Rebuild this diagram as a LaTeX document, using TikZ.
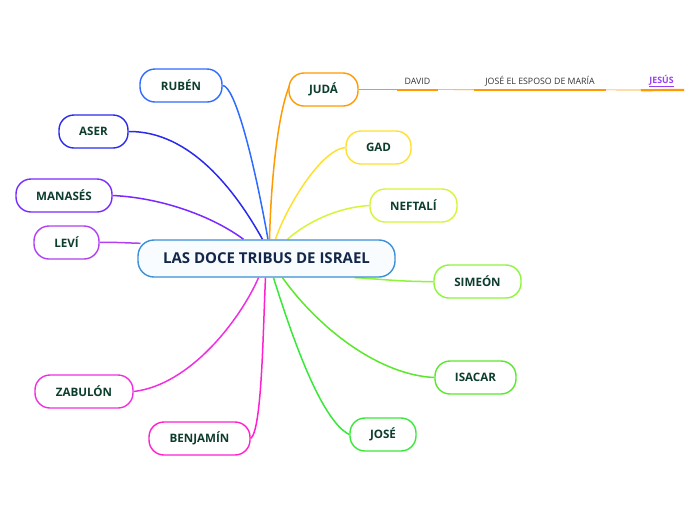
\documentclass[tikz,border=0pt]{standalone}
\usepackage{fontspec}
\setmainfont{Open Sans}
\usetikzlibrary{backgrounds}
\definecolor{txtg}{HTML}{0D3D2E}
\definecolor{ctxt}{HTML}{14274A}
\definecolor{cbord}{HTML}{3B8FD6}
\definecolor{cfill}{HTML}{F8FCFF}
\definecolor{crub}{HTML}{2F6BFF}
\definecolor{caser}{HTML}{2A2AEE}
\definecolor{cman}{HTML}{7A2AFF}
\definecolor{clev}{HTML}{B040F0}
\definecolor{cjud}{HTML}{FF9A00}
\definecolor{cgad}{HTML}{FFE030}
\definecolor{cnef}{HTML}{D4F53A}
\definecolor{csim}{HTML}{8EF53A}
\definecolor{cisa}{HTML}{5AE82A}
\definecolor{cjos}{HTML}{3AE83A}
\definecolor{czab}{HTML}{EE30E0}
\definecolor{cben}{HTML}{FF20D0}
\definecolor{cjes}{HTML}{9A3FF0}
\tikzset{
  tribe/.style={draw=#1, rounded corners=15pt, minimum height=33pt, line width=1.4pt,
    fill=white, text=txtg, font=\fontsize{11.6}{13}\selectfont\bfseries, inner sep=0pt},
  link/.style={draw=#1, line width=1.5pt},
  sub/.style={font=\fontsize{8.8}{10}\selectfont, text=black!80, minimum height=18pt, inner sep=0pt},
  subline/.style={draw=cjud, line width=2.2pt}
}
\begin{document}
\begin{tikzpicture}[x=1pt,y=-1pt]
\useasboundingbox (0,0) rectangle (696,520);
\node[draw=cbord, fill=cfill, rounded corners=16pt, line width=1.4pt, minimum width=257pt,
  minimum height=37pt, inner sep=0pt, text=ctxt, font=\fontsize{15}{17}\selectfont\bfseries]
  (c) at (266.5,258.5) {LAS DOCE TRIBUS DE ISRAEL};
\node[tribe=crub, minimum width=82pt] (rub) at (181,85.5) {RUBÉN};
\node[tribe=caser, minimum width=69pt] (aser) at (93.5,131.5) {ASER};
\node[tribe=cman, minimum width=96pt] (man) at (64,195.5) {MANASÉS};
\node[tribe=clev, minimum width=65pt] (lev) at (66.5,242.5) {LEVÍ};
\node[tribe=cjud, minimum width=69pt] (jud) at (323.5,89.5) {JUDÁ};
\node[tribe=cgad, minimum width=65pt] (gad) at (378.5,147.5) {GAD};
\node[tribe=cnef, minimum width=87pt] (nef) at (413.5,205.5) {NEFTALÍ};
\node[tribe=csim, minimum width=87pt] (sim) at (477.5,281.5) {SIMEÓN};
\node[tribe=cisa, minimum width=81pt] (isa) at (475.5,377.5) {ISACAR};
\node[tribe=cjos, minimum width=66pt] (jos) at (383,434.5) {JOSÉ};
\node[tribe=czab, minimum width=98pt] (zab) at (84,391.5) {ZABULÓN};
\node[tribe=cben, minimum width=101pt] (ben) at (199.5,438.5) {BENJAMÍN};
\node[sub, minimum width=41pt] (david) at (417.5,81) {DAVID};
\node[sub, minimum width=132pt] (jose) at (540,81) {JOSÉ EL ESPOSO DE MARÍA};
\node[sub, minimum width=41pt, text=cjes, font=\fontsize{8.8}{10}\selectfont\bfseries] (jes) at (661.5,81) {\underline{JESÚS}};
\coordinate (end) at (684,90);
\begin{scope}[on background layer]
\draw[draw=cjud, line width=0.7pt] (jud.east) -- (end);
\draw[subline] (david.south west) -- (david.south east);
\draw[subline] (jose.south west) -- (jose.south east);
\draw[subline] (jes.south west) -- (end);
\draw[link=crub] (rub.east) .. controls (234,86) and (252,150) .. ([xshift=1.5pt]c.north);
\draw[link=caser] (aser.east) .. controls (190,131) and (235,190) .. ([xshift=-4pt]c.north);
\draw[link=cman] (man.east) .. controls (165,198) and (215,218) .. ([xshift=-23pt]c.north);
\draw[link=clev] (lev.east) .. controls (115,242) and (128,243) .. ([xshift=-126pt,yshift=-4pt]c.north);
\draw[link=cjud] ([xshift=-33pt,yshift=6pt]jud.center) .. controls (278,110) and (271,180) .. ([xshift=3pt]c.north);
\draw[link=cgad] (gad.west) .. controls (320,150) and (285,210) .. ([xshift=9pt]c.north);
\draw[link=cnef] (nef.west) .. controls (330,208) and (300,228) .. ([xshift=21pt]c.north);
\draw[link=csim] (sim.west) .. controls (400,282) and (370,278) .. ([xshift=88pt]c.south);
\draw[link=cisa] (isa.west) .. controls (380,375) and (320,330) .. ([xshift=16pt]c.south);
\draw[link=cjos] (jos.west) .. controls (320,420) and (290,330) .. ([xshift=7pt]c.south);
\draw[link=czab] (zab.east) .. controls (190,385) and (240,320) .. ([xshift=-8pt]c.south);
\draw[link=cben] (ben.east) .. controls (262,430) and (263,330) .. ([xshift=-1pt]c.south);
\end{scope}
\end{tikzpicture}
\end{document}
